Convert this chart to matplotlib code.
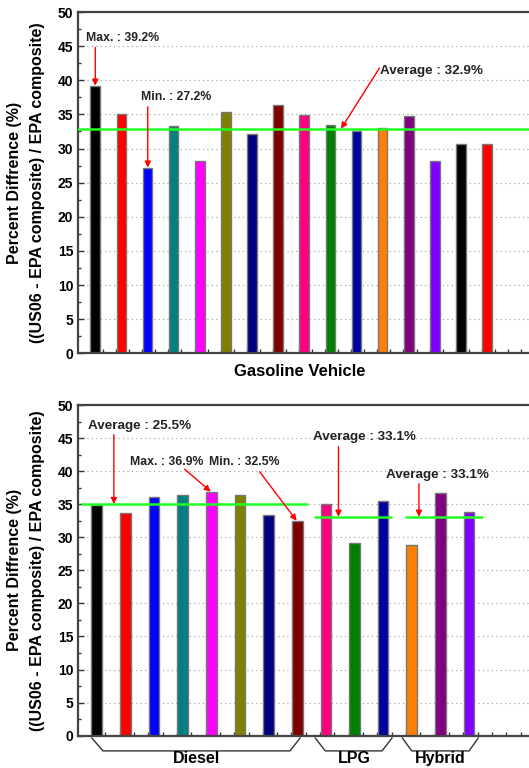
import numpy as np
from matplotlib import pyplot as plt
from matplotlib.transforms import blended_transform_factory

plt.rcParams["font.family"] = ["Liberation Sans", "DejaVu Sans"]
plt.rcParams["font.weight"] = "bold"

# gasoline vehicles (top panel)
gas_values = [39.2, 35.1, 27.2, 33.3, 28.2, 35.35, 32.2, 36.4,
              34.95, 33.45, 32.6, 33.0, 34.7, 28.2, 30.6, 30.6]
gas_avg = 32.9

# diesel / LPG / hybrid vehicles (bottom panel)
diesel_values = [34.9, 33.6, 36.05, 36.45, 36.9, 36.45, 33.4, 32.5]
lpg_values = [35.0, 29.15, 35.45]
hybrid_values = [28.9, 36.65, 33.85]
diesel_avg_label = 25.5
lpg_avg = 33.1
hybrid_avg = 33.1
group_names = ["Diesel", "LPG", "Hybrid"]

palette = ["#000000", "#FF0000", "#0000FF", "#008080", "#FF00FF", "#808000",
           "#000080", "#800000", "#FF0080", "#008000", "#0000A0", "#FF8000",
           "#800080", "#8000FF"]

W, H = 529, 768
fig = plt.figure(figsize=(W / 100, H / 100), dpi=100)

bar_w = 0.37
lime = "#22FF22"


def style_axes(ax, n_bars):
    ax.set_ylim(0, 50)
    ax.set_yticks(np.arange(0, 51, 5))
    ax.set_yticks(np.arange(2.5, 50, 5), minor=True)
    ax.tick_params(axis="y", which="major", direction="in", length=4,
                   width=1, labelsize=10, pad=3, color="#333333")
    ax.tick_params(axis="y", which="minor", direction="in", length=2.5,
                   width=1, color="#333333")
    ticks = np.concatenate([np.arange(n_bars + 2) + 0.3, np.arange(n_bars + 2) + 0.8])
    ax.set_xticks(ticks)
    ax.set_xticklabels([])
    ax.tick_params(axis="x", direction="in", length=3, width=1, color="#333333")
    for lab in ax.get_yticklabels():
        lab.set_fontweight("bold")
    for y in range(5, 50, 5):
        ax.axhline(y, color="#9a9a9a", lw=0.8, ls=(0, (1, 3)), zorder=0)
    for s in ax.spines.values():
        s.set_color("#444444")
        s.set_linewidth(1.6)


def red_arrow(ax, start, tip):
    ax.annotate("", xy=tip, xytext=start,
                arrowprops=dict(arrowstyle="-|>", color="red", lw=1.0,
                                mutation_scale=9, shrinkA=0, shrinkB=0),
                zorder=6, annotation_clip=False)


def label(ax, x, y, text, size):
    ax.text(x, y, text, ha="center", va="center", fontsize=size,
            fontweight="bold", color="#222222", zorder=6)


# ---- top panel ----
ax1 = fig.add_axes([77.5 / W, 1 - 353.3 / H, 482.7 / W, 341.3 / H])
x1 = np.arange(len(gas_values))
colors1 = (palette * 2)[:len(gas_values)]
ax1.bar(x1, gas_values, width=bar_w, color=colors1, edgecolor="#777777",
        linewidth=1.0, zorder=2)
ax1.set_xlim(-0.68, 17.0)
style_axes(ax1, len(gas_values))
ax1.axhline(gas_avg, color=lime, lw=1.8, zorder=4)

i_max = int(np.argmax(gas_values))
i_min = int(np.argmin(gas_values))
label(ax1, 1.04, 46.2, f"Max. : {gas_values[i_max]:.1f}%", 8.8)
red_arrow(ax1, (i_max, 44.8), (i_max, gas_values[i_max]))
label(ax1, 3.1, 37.6, f"Min. : {gas_values[i_min]:.1f}%", 8.8)
red_arrow(ax1, (i_min + 0.01, 36.1), (i_min + 0.01, gas_values[i_min]))
label(ax1, 12.88, 41.4, f"Average : {gas_avg:.1f}%", 9.7)
red_arrow(ax1, (10.88, 41.8), (9.41, gas_avg))

fig.text(299.5 / W, 1 - 371.7 / H, "Gasoline Vehicle", ha="center",
         va="center", fontsize=12, fontweight="bold")

# ---- bottom panel ----
ax2 = fig.add_axes([77.5 / W, 1 - 735.7 / H, 471.8 / W, 330.7 / H])
groups = [diesel_values, lpg_values, hybrid_values]
group_avgs = [np.mean(diesel_values), lpg_avg, hybrid_avg]
values2 = diesel_values + lpg_values + hybrid_values
x2 = np.arange(len(values2))
ax2.bar(x2, values2, width=bar_w, color=palette[:len(values2)],
        edgecolor="#777777", linewidth=1.0, zorder=2)
ax2.set_xlim(-0.67, 14.6)
style_axes(ax2, len(values2))

# group average lines and brackets under each group
trans = blended_transform_factory(ax2.transData, ax2.transAxes)
spans = [(-0.54, 7.37), (7.6, 10.3), (10.76, 13.49)]
bracket_offsets = [(-0.17, 0.22, -0.25, 0.1), (-0.37, -0.02, -0.04, 0.31),
                   (-0.33, 0.0, 0.0, 0.32)]
start = 0
for vals, avg, name, (lo, hi), (a, b, c, d) in zip(groups, group_avgs,
                                                   group_names, spans,
                                                   bracket_offsets):
    first, last = start, start + len(vals) - 1
    ax2.plot([lo, hi], [avg, avg], color=lime, lw=1.8, zorder=4,
             solid_capstyle="butt")
    ax2.plot([first + a, first + b, last + c, last + d],
             [-0.007, -0.046, -0.046, -0.007], transform=trans,
             color="#333333", lw=1.0, clip_on=False)
    ax2.text((first + last) / 2, -0.0826, name, transform=trans,
             ha="center", va="baseline", fontsize=11.5, fontweight="bold")
    start += len(vals)

d_max = int(np.argmax(diesel_values))
d_min = int(np.argmin(diesel_values))
label(ax2, 1.48, 46.8, f"Average : {diesel_avg_label:.1f}%", 9.7)
red_arrow(ax2, (0.6, 45.5), (0.6, group_avgs[0]))
label(ax2, 2.45, 41.4, f"Max. : {diesel_values[d_max]:.1f}%", 8.8)
red_arrow(ax2, (3.07, 40.3), (d_max - 0.02, diesel_values[d_max]))
label(ax2, 5.16, 41.4, f"Min. : {diesel_values[d_min]:.1f}%", 8.8)
red_arrow(ax2, (5.69, 39.9), (d_min - 0.02, diesel_values[d_min]))
label(ax2, 9.33, 45.1, f"Average : {lpg_avg:.1f}%", 9.7)
red_arrow(ax2, (8.44, 43.7), (8.44, lpg_avg))
label(ax2, 11.88, 39.4, f"Average : {hybrid_avg:.1f}%", 9.7)
red_arrow(ax2, (11.25, 38.1), (11.25, hybrid_avg))

# y labels for both panels
for ax in (ax1, ax2):
    pos = ax.get_position()
    yc = (pos.y0 + pos.y1) / 2
    fig.text(15 / W, yc, "Percent Diffrence (%)", rotation=90, ha="center",
             va="center", fontsize=11.5, fontweight="bold")
    fig.text(38 / W, yc, "((US06 - EPA composite) / EPA composite)",
             rotation=90, ha="center", va="center", fontsize=11.5,
             fontweight="bold")

fig.savefig("out.png", dpi=100)
